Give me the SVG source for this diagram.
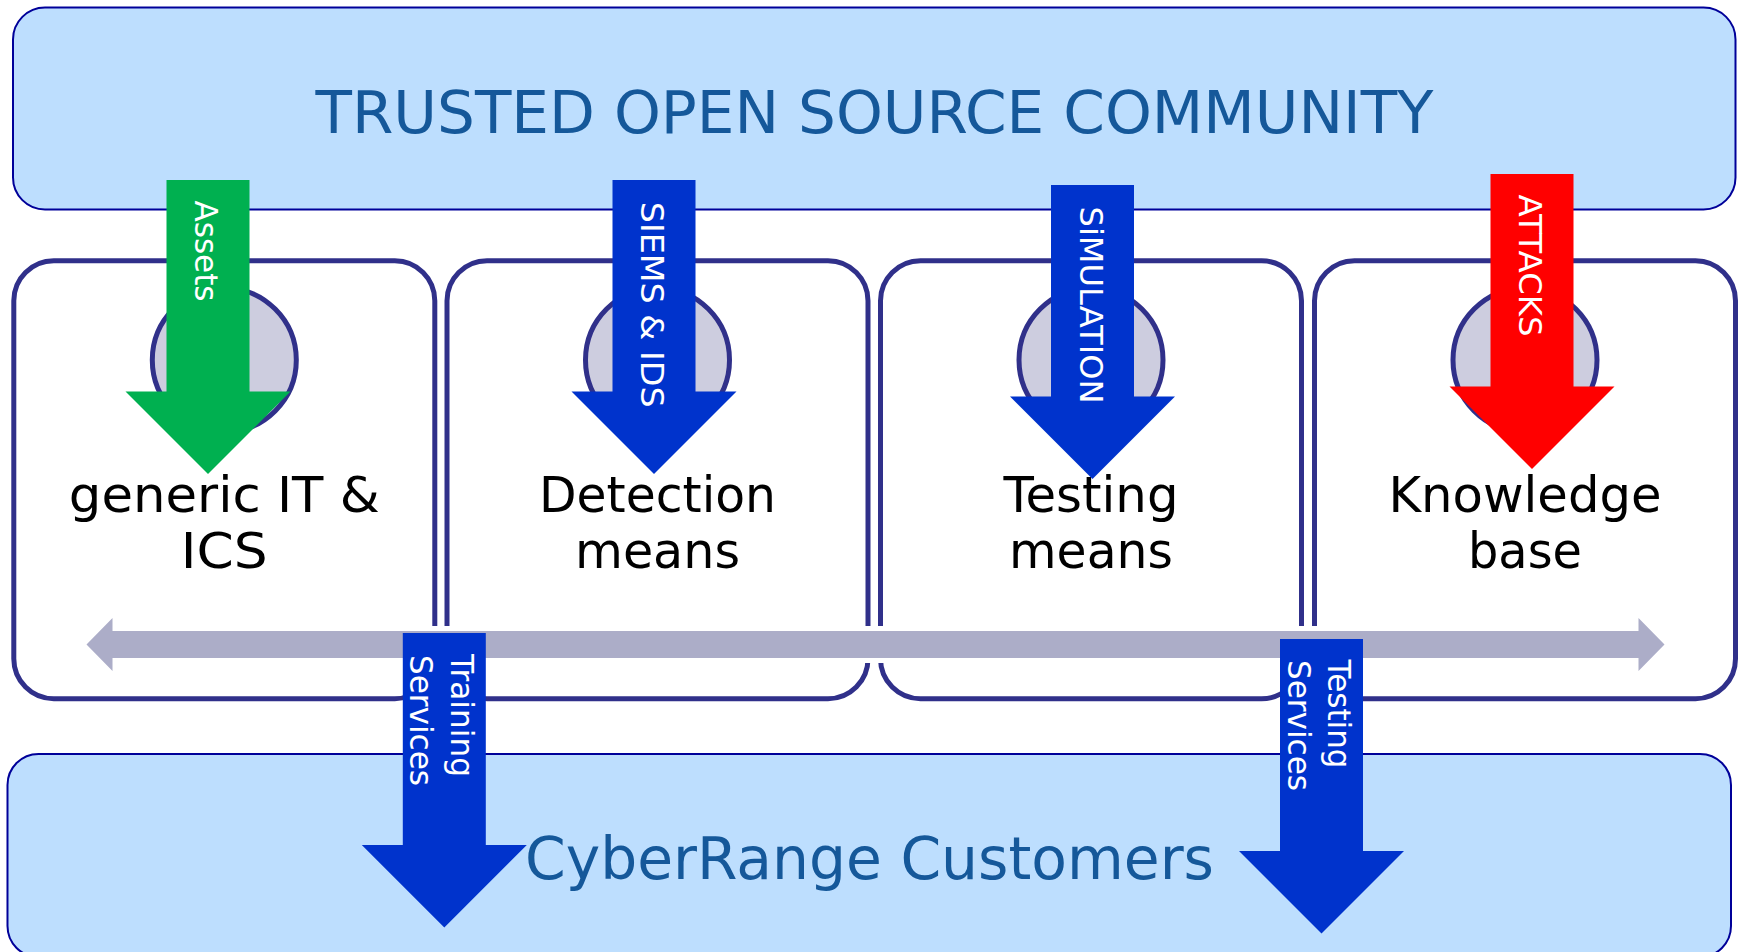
<svg xmlns="http://www.w3.org/2000/svg" width="1739" height="952" viewBox="0 0 1739 952">
  <style>
    .panel { fill: #bddefe; stroke: #000099; stroke-width: 2; }
    .panel-title { font-family: "DejaVu Sans", Verdana, sans-serif; font-size: 59px; fill: #15589a; text-anchor: middle; }
    .node-box { fill: #ffffff; stroke: #30308a; stroke-width: 5; }
    .node-dot { fill: #cdcddf; stroke: #30308a; stroke-width: 5; }
    .node-label { font-family: "DejaVu Sans", Verdana, sans-serif; font-size: 50px; fill: #000000; text-anchor: middle; }
    .flow-label { font-family: "DejaVu Sans", Verdana, sans-serif; font-size: 32.5px; fill: #ffffff; }
    .band { fill: #acadc8; stroke: #ffffff; stroke-width: 10; stroke-linejoin: miter; paint-order: stroke; }
    .green { fill: #00b050; }
    .blue { fill: #0033cc; }
    .red { fill: #ff0000; }
  </style>

  <!-- upper panel: the community -->
  <g id="community">
    <rect class="panel" x="13" y="7.5" width="1722.5" height="202" rx="32" ry="32"/>
    <text class="panel-title" x="874.5" y="133" textLength="1118" lengthAdjust="spacingAndGlyphs">TRUSTED OPEN SOURCE COMMUNITY</text>
  </g>

  <!-- lower panel: the customers -->
  <g id="customers">
    <rect class="panel" x="7.5" y="754" width="1723.5" height="203" rx="31" ry="31"/>
    <text class="panel-title" x="869.5" y="879" textLength="689" lengthAdjust="spacingAndGlyphs">CyberRange Customers</text>
  </g>

  <!-- four component nodes -->
  <g id="node-it-ics">
    <rect class="node-box" x="13.8" y="260.8" width="421" height="438" rx="40" ry="40"/>
    <circle class="node-dot" cx="224.3" cy="360" r="72"/>
    <text class="node-label" x="224.3" y="512" textLength="311" lengthAdjust="spacingAndGlyphs">generic IT &amp;</text>
    <text class="node-label" x="224.3" y="567.5" textLength="87" lengthAdjust="spacingAndGlyphs">ICS</text>
  </g>
  <g id="node-detection">
    <rect class="node-box" x="447" y="260.8" width="421" height="438" rx="40" ry="40"/>
    <circle class="node-dot" cx="657.5" cy="360" r="72"/>
    <text class="node-label" x="657.5" y="512" textLength="237" lengthAdjust="spacingAndGlyphs">Detection</text>
    <text class="node-label" x="657.5" y="567.5" textLength="165" lengthAdjust="spacingAndGlyphs">means</text>
  </g>
  <g id="node-testing">
    <rect class="node-box" x="880.5" y="260.8" width="421" height="438" rx="40" ry="40"/>
    <circle class="node-dot" cx="1091" cy="360" r="72"/>
    <text class="node-label" x="1091" y="512" textLength="175" lengthAdjust="spacingAndGlyphs">Testing</text>
    <text class="node-label" x="1091" y="567.5" textLength="164" lengthAdjust="spacingAndGlyphs">means</text>
  </g>
  <g id="node-knowledge">
    <rect class="node-box" x="1314.5" y="260.8" width="421" height="438" rx="40" ry="40"/>
    <circle class="node-dot" cx="1525" cy="360" r="72"/>
    <text class="node-label" x="1525" y="512" textLength="273" lengthAdjust="spacingAndGlyphs">Knowledge</text>
    <text class="node-label" x="1525" y="567.5" textLength="114" lengthAdjust="spacingAndGlyphs">base</text>
  </g>

  <!-- connectors -->
  <g id="connectors">
    <!-- shared exchange bus across the nodes (white halo cuts the box outlines) -->
    <path class="band" d="M86.5,644.5 L112.5,618 V631 H1638.5 V618 L1664.5,644.5 L1638.5,671 V658 H112.5 V671 Z"/>

    <!-- contributions from the community -->
    <path class="green" d="M166.5,180 H249.5 V391.5 H290.5 L208,474 L125.5,391.5 H166.5 Z"/>
    <text class="flow-label" transform="translate(195,200.5) rotate(90)" textLength="101" lengthAdjust="spacingAndGlyphs">Assets</text>

    <path class="blue" d="M612.5,180 H695.5 V391.5 H736.5 L654,474 L571.5,391.5 H612.5 Z"/>
    <text class="flow-label" transform="translate(641,201.7) rotate(90)" textLength="206" lengthAdjust="spacingAndGlyphs">SIEMS &amp; IDS</text>

    <path class="blue" d="M1051,185 H1134 V396.5 H1175 L1092.5,479 L1010,396.5 H1051 Z"/>
    <text class="flow-label" transform="translate(1079.5,206.5) rotate(90)" textLength="197" lengthAdjust="spacingAndGlyphs">SiMULATION</text>

    <path class="red" d="M1490.5,174 H1573.5 V386.5 H1614.5 L1532,469 L1449.5,386.5 H1490.5 Z"/>
    <text class="flow-label" transform="translate(1518.5,194.5) rotate(90)" textLength="142" lengthAdjust="spacingAndGlyphs">ATTACKS</text>

    <!-- services delivered to customers -->
    <path class="blue" d="M402.8,633 H485.8 V845 H526.8 L444.3,927.5 L361.8,845 H402.8 Z"/>
    <text class="flow-label" transform="translate(450.5,654) rotate(90)" textLength="123" lengthAdjust="spacingAndGlyphs">Training</text>
    <text class="flow-label" transform="translate(410,655) rotate(90)" textLength="131" lengthAdjust="spacingAndGlyphs">Services</text>

    <path class="blue" d="M1280,639 H1363 V851 H1404 L1321.5,933.5 L1239,851 H1280 Z"/>
    <text class="flow-label" transform="translate(1327.5,659.5) rotate(90)" textLength="109" lengthAdjust="spacingAndGlyphs">Testing</text>
    <text class="flow-label" transform="translate(1287.5,660) rotate(90)" textLength="131" lengthAdjust="spacingAndGlyphs">Services</text>
  </g>
</svg>
